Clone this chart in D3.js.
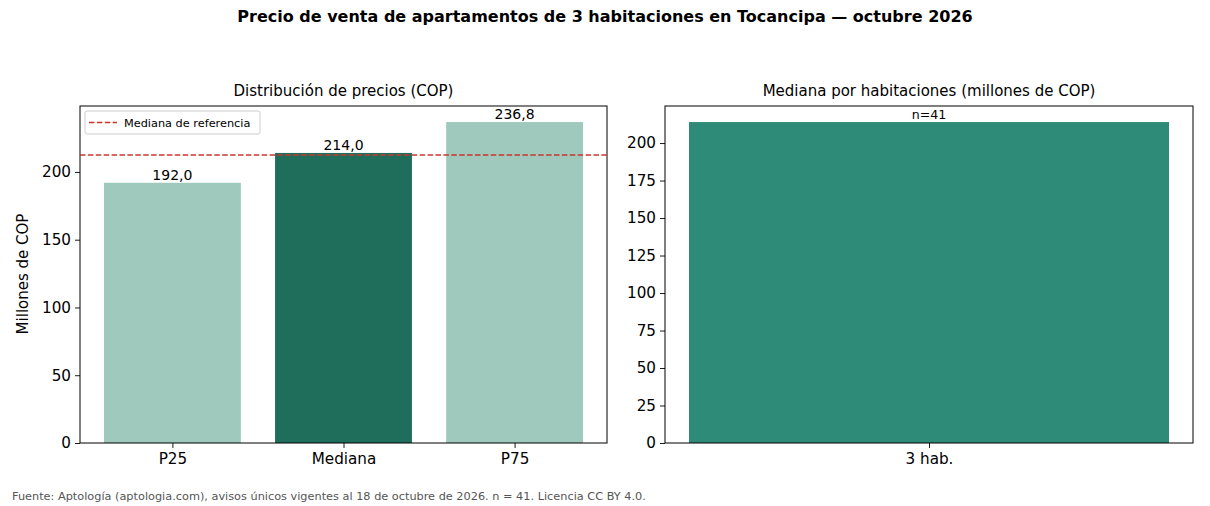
<!DOCTYPE html>
<html>
<head>
<meta charset="utf-8">
<script src="https://cdn.jsdelivr.net/npm/d3@7"></script>
<style>
  body { margin: 0; background: #fff; }
  text { font-family: "DejaVu Sans", sans-serif; }
</style>
</head>
<body>
<svg id="chart" width="1210" height="506"></svg>
<script>
// data
var distCategories = ['P25', 'Mediana', 'P75']
var distValues = [192.0, 214.0, 236.8]
var distLabels = ['192,0', '214,0', '236,8']
var referenceMedian = 212.5
var roomCategories = ['3 hab.']
var roomValues = [214.0]
var roomLabels = ['n=41']
var leftTicks = [0, 50, 100, 150, 200]
var rightTicks = [0, 25, 50, 75, 100, 125, 150, 175, 200]

var lightTeal = '#9ec9bc'
var darkTeal = '#1f6e5c'
var midTeal = '#2e8b77'
var refRed = '#c8372d'

var svg = d3.select('#chart')

svg.append('text')
  .attr('x', 605).attr('y', 22)
  .attr('text-anchor', 'middle')
  .attr('font-size', 16).attr('font-weight', 'bold')
  .text('Precio de venta de apartamentos de 3 habitaciones en Tocancipa — octubre 2026')

function drawPanel(opts) {
  var g = svg.append('g')
  var x = d3.scaleLinear()
    .domain([-0.4 - 0.05 * opts.span, opts.n - 0.6 + 0.05 * opts.span])
    .range([opts.left, opts.right])
  var y = d3.scaleLinear()
    .domain([0, d3.max(opts.values) * 1.05])
    .range([opts.bottom, opts.top])

  g.selectAll('rect.bar')
    .data(opts.values)
    .enter().append('rect')
      .attr('class', 'bar')
      .attr('x', function (d, i) { return x(i - 0.4) })
      .attr('width', function () { return x(0.4) - x(-0.4) })
      .attr('y', function (d) { return y(d) })
      .attr('height', function (d) { return y(0) - y(d) })
      .attr('fill', function (d, i) { return opts.colors[i] })

  g.selectAll('text.vlabel')
    .data(opts.values)
    .enter().append('text')
      .attr('class', 'vlabel')
      .attr('x', function (d, i) { return x(i) })
      .attr('y', function (d) { return y(d) - 3 })
      .attr('text-anchor', 'middle')
      .attr('font-size', opts.labelSize)
      .text(function (d, i) { return opts.labels[i] })

  var yAxis = g.append('g')
    .attr('transform', 'translate(' + opts.left + ',0)')
    .call(d3.axisLeft(y).tickValues(opts.ticks).tickSize(5).tickPadding(4).tickFormat(d3.format('d')))
  var xAxis = g.append('g')
    .attr('transform', 'translate(0,' + opts.bottom + ')')
    .call(d3.axisBottom(x).tickValues(d3.range(opts.n)).tickSize(5).tickPadding(5)
      .tickFormat(function (i) { return opts.categories[i] }))
  ;[yAxis, xAxis].forEach(function (a) {
    a.select('.domain').remove()
    a.selectAll('text').attr('font-size', 15.2).attr('fill', '#000')
      .style('font-family', '"DejaVu Sans", sans-serif')
    a.selectAll('line').attr('stroke', '#000').attr('stroke-width', 0.9)
  })

  g.append('rect')
    .attr('x', opts.left).attr('y', opts.top)
    .attr('width', opts.right - opts.left).attr('height', opts.bottom - opts.top)
    .attr('fill', 'none').attr('stroke', '#000').attr('stroke-width', 1)

  g.append('text')
    .attr('x', (opts.left + opts.right) / 2).attr('y', opts.top - 10)
    .attr('text-anchor', 'middle').attr('font-size', 15)
    .text(opts.title)

  return { g: g, x: x, y: y }
}

var left = drawPanel({
  n: 3, span: 2.8, left: 80, right: 607, top: 106, bottom: 443,
  values: distValues, labels: distLabels, categories: distCategories,
  colors: [lightTeal, darkTeal, lightTeal], ticks: leftTicks, labelSize: 14,
  title: 'Distribución de precios (COP)'
})

// reference line
left.g.append('line')
  .attr('x1', 80).attr('x2', 607)
  .attr('y1', left.y(referenceMedian)).attr('y2', left.y(referenceMedian))
  .attr('stroke', refRed).attr('stroke-width', 1.5)
  .attr('stroke-dasharray', '5.5,2.4')

// legend
var lg = left.g.append('g').attr('transform', 'translate(85,111)')
lg.append('rect')
  .attr('width', 175).attr('height', 23).attr('rx', 2)
  .attr('fill', '#fff').attr('fill-opacity', 0.8)
  .attr('stroke', '#ccc').attr('stroke-width', 1)
lg.append('line')
  .attr('x1', 4).attr('x2', 32).attr('y1', 11.5).attr('y2', 11.5)
  .attr('stroke', refRed).attr('stroke-width', 1.5)
  .attr('stroke-dasharray', '5.5,2.4')
lg.append('text')
  .attr('x', 39).attr('y', 15.5).attr('font-size', 11.3)
  .text('Mediana de referencia')

svg.append('text')
  .attr('transform', 'translate(28,274) rotate(-90)')
  .attr('text-anchor', 'middle').attr('font-size', 15)
  .text('Millones de COP')

drawPanel({
  n: 1, span: 0.8, left: 665, right: 1193, top: 106, bottom: 443,
  values: roomValues, labels: roomLabels, categories: roomCategories,
  colors: [midTeal], ticks: rightTicks, labelSize: 12.6,
  title: 'Mediana por habitaciones (millones de COP)'
})

svg.append('text')
  .attr('x', 12).attr('y', 500)
  .attr('font-size', 11.3).attr('fill', '#555')
  .text('Fuente: Aptología (aptologia.com), avisos únicos vigentes al 18 de octubre de 2026. n = 41. Licencia CC BY 4.0.')
</script>
</body>
</html>
